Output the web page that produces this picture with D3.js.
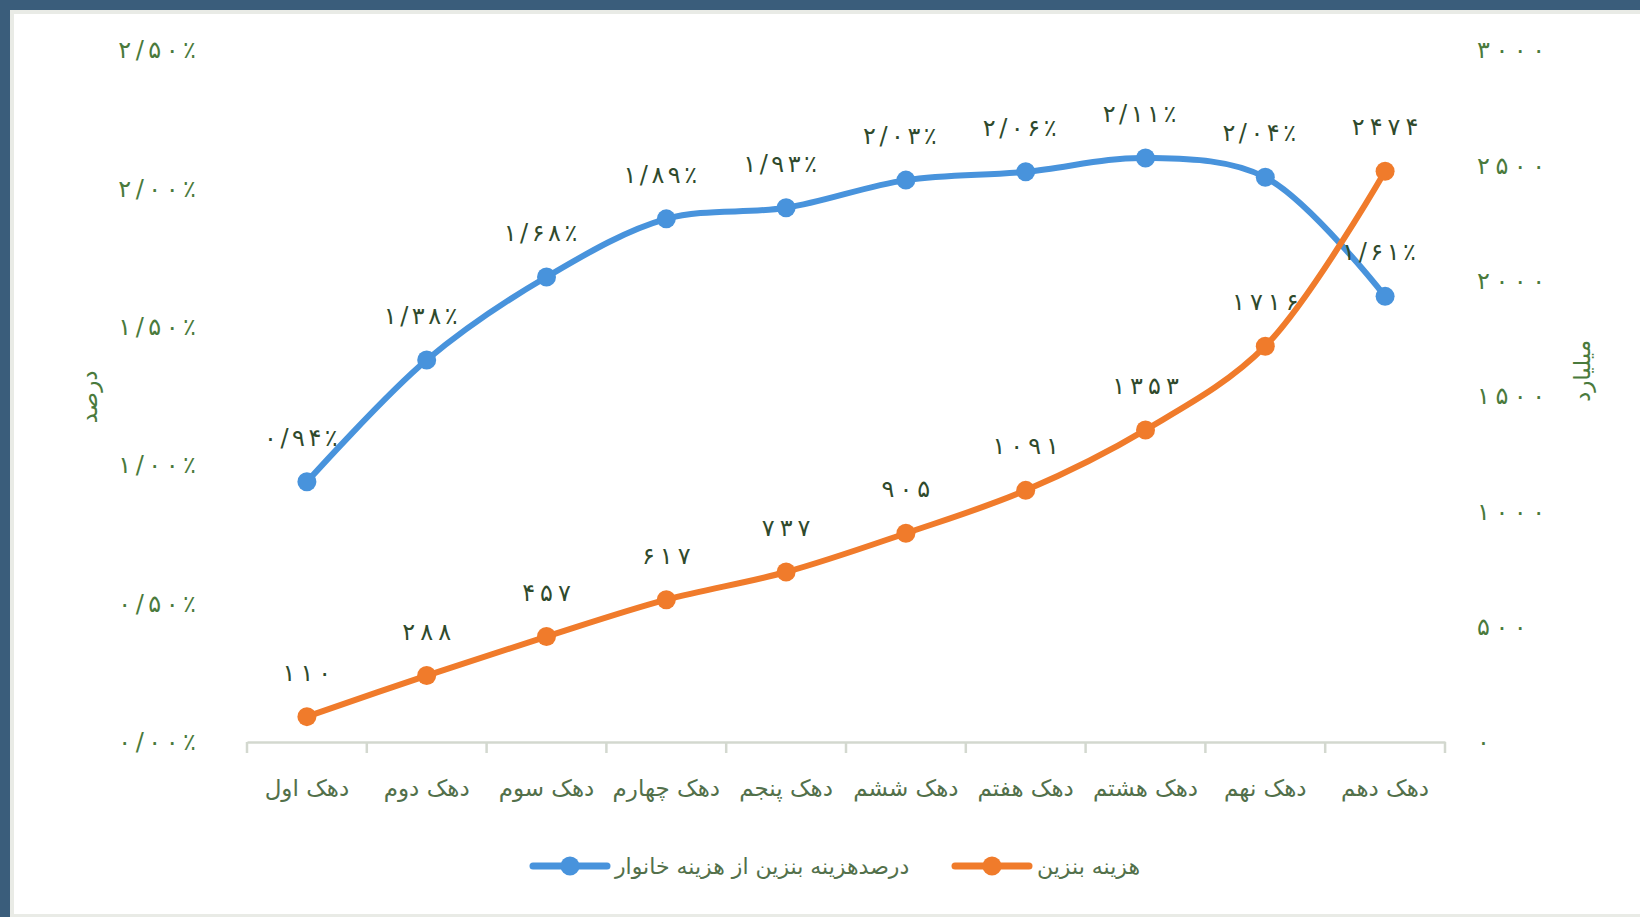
<!DOCTYPE html>
<meta charset="utf-8">
<script src="https://d3js.org/d3.v7.min.js"></script>
<style>
  body { margin: 0; background: #3a5d7b; }
  text { font-family: "DejaVu Sans", sans-serif; }
</style>
<div id="chart"></div>
<script>

// data
var deciles = ["دهک اول", "دهک دوم", "دهک سوم", "دهک چهارم", "دهک پنجم",
               "دهک ششم", "دهک هفتم", "دهک هشتم", "دهک نهم", "دهک دهم"];
var shareOfSpending = [0.94, 1.38, 1.68, 1.89, 1.93, 2.03, 2.06, 2.11, 2.04, 1.61]; // percent
var fuelCost = [110, 288, 457, 617, 737, 905, 1091, 1353, 1716, 2474];              // billion
var leftTicks = [0, 0.5, 1, 1.5, 2, 2.5];
var rightTicks = [0, 500, 1000, 1500, 2000, 2500, 3000];
var seriesNames = ["درصدهزینه بنزین از هزینه خانوار", "هزینه بنزین"];

var W = 1640, H = 917;
var blue = "#4893dc", orange = "#f07b2b";
var axisGreen = "#4a7a3c", labelDark = "#2f4a2c", catGreen = "#52704a";

// persian digits
function fa(s) {
  return String(s).replace(/[0-9]/g, function(d) { return "۰۱۲۳۴۵۶۷۸۹"[+d]; })
                  .replace(/\./g, "/");
}

// letter-spacing is ignored for this script, so stretch with textLength
function spaceOut(sel, gap) {
  sel.each(function() {
    var n = this.textContent.length;
    if (n < 2) return;
    var w = this.getComputedTextLength();
    d3.select(this).attr("textLength", w + (n - 1) * gap).attr("lengthAdjust", "spacing");
  });
}

var svg = d3.select("#chart").append("svg")
    .attr("width", W).attr("height", H);

// frame
svg.append("rect").attr("x", 10).attr("y", 10).attr("width", W - 10).attr("height", H - 10)
    .attr("fill", "#e9ebe6");
svg.append("rect").attr("x", 14).attr("y", 14).attr("width", W - 14).attr("height", H - 17)
    .attr("fill", "#ffffff");

var x = d3.scaleBand().domain(deciles).range([247, 1445]);
var yL = d3.scaleLinear().domain([0, 2.5]).range([742, 50]);
var yR = d3.scaleLinear().domain([0, 3000]).range([742, 50]);
var cx = function(i) { return x(deciles[i]) + x.bandwidth() / 2; };

// x axis
var xAxis = svg.append("g")
    .attr("transform", "translate(0,742)")
    .call(d3.axisBottom(x).tickSize(0).tickSizeOuter(0).tickFormat(""));
xAxis.select(".domain").attr("stroke", "#d3d8cf").attr("stroke-width", 2.5);
xAxis.selectAll(".tick line").remove();
// band boundary ticks
svg.append("g").selectAll("line")
    .data(d3.range(deciles.length + 1))
    .join("line")
    .attr("x1", function(i) { return x.range()[0] + i * x.step(); })
    .attr("x2", function(i) { return x.range()[0] + i * x.step(); })
    .attr("y1", 742).attr("y2", 753)
    .attr("stroke", "#d3d8cf").attr("stroke-width", 2.5);

svg.append("g").selectAll("text")
    .data(deciles)
    .join("text")
    .attr("x", function(d) { return x(d) + x.bandwidth() / 2; })
    .attr("y", 796)
    .attr("text-anchor", "middle")
    .attr("direction", "rtl")
    .attr("fill", catGreen)
    .attr("font-size", 23)
    .text(function(d) { return d; });

// left axis
var gL = svg.append("g")
    .attr("transform", "translate(196,0)")
    .call(d3.axisLeft(yL).tickValues(leftTicks).tickSize(0).tickPadding(0)
      .tickFormat(function(d) { return fa(d.toFixed(2)) + "٪"; }));
gL.select(".domain").remove();
gL.selectAll("text").attr("fill", axisGreen).attr("font-size", 24)
    .attr("font-family", "DejaVu Sans").attr("direction", "ltr")
    .call(spaceOut, 4.5);

// right axis
var gR = svg.append("g")
    .attr("transform", "translate(1477,0)")
    .call(d3.axisRight(yR).tickValues(rightTicks).tickSize(0).tickPadding(0)
      .tickFormat(function(d) { return fa(d); }));
gR.select(".domain").remove();
gR.selectAll("text").attr("fill", axisGreen).attr("font-size", 24)
    .attr("font-family", "DejaVu Sans")
    .call(spaceOut, 5.5);

// axis titles
svg.append("text")
    .attr("transform", "translate(89,397) rotate(-90)")
    .attr("text-anchor", "middle").attr("dominant-baseline", "central")
    .attr("fill", axisGreen).attr("font-size", 23)
    .text("درصد");
svg.append("text")
    .attr("transform", "translate(1582,371) rotate(-90)")
    .attr("text-anchor", "middle").attr("dominant-baseline", "central")
    .attr("fill", axisGreen).attr("font-size", 23)
    .text("میلیارد");

// lines
var lineL = d3.line()
    .x(function(d, i) { return cx(i); })
    .y(function(d) { return yL(d); })
    .curve(d3.curveCatmullRom.alpha(0.5));
var lineR = d3.line()
    .x(function(d, i) { return cx(i); })
    .y(function(d) { return yR(d); })
    .curve(d3.curveCatmullRom.alpha(0.5));

svg.append("path").datum(shareOfSpending)
    .attr("d", lineL).attr("fill", "none")
    .attr("stroke", blue).attr("stroke-width", 6).attr("stroke-linecap", "round");
svg.append("g").selectAll("circle")
    .data(shareOfSpending).join("circle")
    .attr("cx", function(d, i) { return cx(i); })
    .attr("cy", function(d) { return yL(d); })
    .attr("r", 9.5).attr("fill", blue);

svg.append("path").datum(fuelCost)
    .attr("d", lineR).attr("fill", "none")
    .attr("stroke", orange).attr("stroke-width", 6).attr("stroke-linecap", "round");
svg.append("g").selectAll("circle")
    .data(fuelCost).join("circle")
    .attr("cx", function(d, i) { return cx(i); })
    .attr("cy", function(d) { return yR(d); })
    .attr("r", 9.5).attr("fill", orange);

// data labels
svg.append("g").selectAll("text")
    .data(shareOfSpending).join("text")
    .attr("x", function(d, i) { return cx(i) - 6; })
    .attr("y", function(d) { return yL(d) - 36; })
    .attr("text-anchor", "middle").attr("direction", "ltr")
    .attr("fill", labelDark).attr("font-size", 24)
    .text(function(d) { return fa(d.toFixed(2)) + "٪"; })
    .call(spaceOut, 3.5);
svg.append("g").selectAll("text")
    .data(fuelCost).join("text")
    .attr("x", function(d, i) { return cx(i); })
    .attr("y", function(d) { return yR(d) - 36; })
    .attr("text-anchor", "middle")
    .attr("fill", labelDark).attr("font-size", 24)
    .text(function(d) { return fa(d); })
    .call(spaceOut, 5);

// legend
var legend = [
  {name: seriesNames[0], color: blue, x0: 533},
  {name: seriesNames[1], color: orange, x0: 955}
];
var lg = svg.append("g").selectAll("g").data(legend).join("g")
    .attr("transform", function(d) { return "translate(" + d.x0 + ",866)"; });
lg.append("line").attr("x1", 0).attr("x2", 74).attr("y1", 0).attr("y2", 0)
    .attr("stroke", function(d) { return d.color; }).attr("stroke-width", 7)
    .attr("stroke-linecap", "round");
lg.append("circle").attr("cx", 37).attr("r", 9.5).attr("fill", function(d) { return d.color; });
lg.append("text").attr("x", 82).attr("y", 0)
    .attr("dominant-baseline", "central").attr("text-anchor", "start")
    .attr("fill", catGreen).attr("font-size", 22)
    .text(function(d) { return d.name; });

</script>
